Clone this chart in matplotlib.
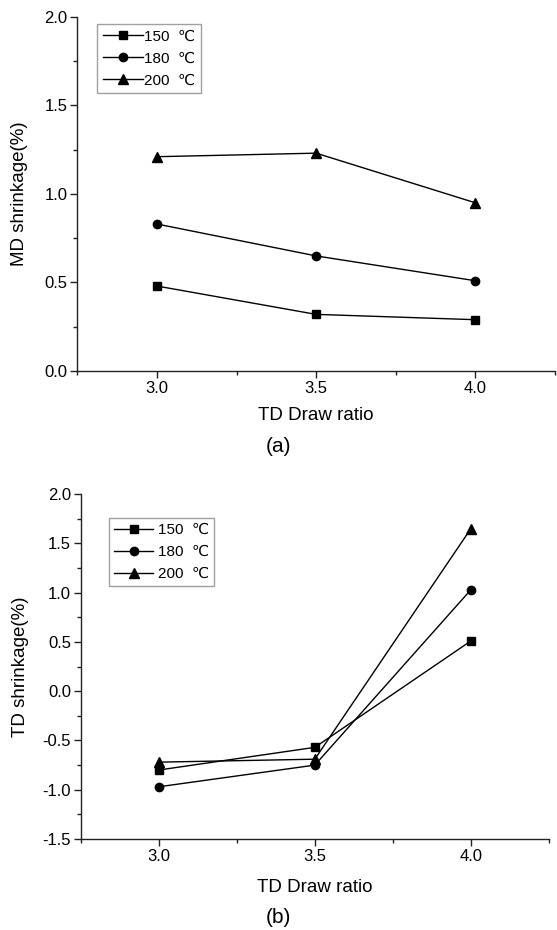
import matplotlib.pyplot as plt
from matplotlib.ticker import MultipleLocator

plt.rcParams['font.family'] = ['Liberation Sans', 'DejaVu Sans']

# draw ratios and shrinkage values per heat-set temperature
draw_ratio = [3.0, 3.5, 4.0]
temps = ['150', '180', '200']
md_shrink = {
    '150': [0.48, 0.32, 0.29],
    '180': [0.83, 0.65, 0.51],
    '200': [1.21, 1.23, 0.95],
}
td_shrink = {
    '150': [-0.80, -0.57, 0.51],
    '180': [-0.97, -0.75, 1.03],
    '200': [-0.72, -0.69, 1.65],
}
markers = {'150': 's', '180': 'o', '200': '^'}
msizes = {'150': 5.5, '180': 6, '200': 6.5}

W, H = 557, 930
fig = plt.figure(figsize=(W / 100, H / 100), dpi=100)
ax_a = fig.add_axes([0.139, 0.601, 0.857, 0.381])
ax_b = fig.add_axes([0.1447, 0.0978, 0.841, 0.371])


def style_axes(ax, ylim, ylabel, ylab_x, xlab_y):
    ax.set_xlim(2.75, 4.25)
    ax.set_ylim(*ylim)
    ax.xaxis.set_major_locator(MultipleLocator(0.5))
    ax.xaxis.set_minor_locator(MultipleLocator(0.25))
    ax.yaxis.set_major_locator(MultipleLocator(0.5))
    ax.yaxis.set_minor_locator(MultipleLocator(0.25))
    ax.xaxis.set_major_formatter(lambda v, p: f'{v:.1f}')
    ax.yaxis.set_major_formatter(lambda v, p: f'{v:.1f}')
    for s in ['top', 'right']:
        ax.spines[s].set_visible(False)
    for s in ['left', 'bottom']:
        ax.spines[s].set_linewidth(1.0)
        ax.spines[s].set_color('#222222')
    ax.tick_params(which='major', direction='out', length=5, width=1.0,
                   labelsize=12, pad=2, colors='#222222', labelcolor='black')
    ax.tick_params(which='minor', direction='out', length=3, width=1.0,
                   colors='#222222')
    ax.set_xlabel('TD Draw ratio', fontsize=13.5, va='center')
    ax.set_ylabel(ylabel, fontsize=13.5, va='center')
    ax.xaxis.set_label_coords(0.5, xlab_y)
    ax.yaxis.set_label_coords(ylab_x, 0.5)


for ax, data in [(ax_a, md_shrink), (ax_b, td_shrink)]:
    for t in temps:
        ax.plot(draw_ratio, data[t], color='black', lw=1.0,
                marker=markers[t], markersize=msizes[t],
                label=f'{t}  \u2103', clip_on=False)

style_axes(ax_a, (0.0, 2.0), 'MD shrinkage(%)', -0.121, -0.124)
style_axes(ax_b, (-1.5, 2.0), 'TD shrinkage(%)', -0.129, -0.139)

leg_a = ax_a.legend(loc='upper left', bbox_to_anchor=(97 / W, 1 - 24 / H),
                    bbox_transform=fig.transFigure,
                    fontsize=11, handlelength=2.6, handletextpad=0.08,
                    borderpad=0.38, labelspacing=0.52, fancybox=False,
                    edgecolor='#888888', borderaxespad=0)
leg_b = ax_b.legend(loc='upper left', bbox_to_anchor=(109 / W, 1 - 518 / H),
                    bbox_transform=fig.transFigure,
                    fontsize=11, handlelength=2.55, handletextpad=0.33,
                    borderpad=0.33, labelspacing=0.52, fancybox=False,
                    edgecolor='#888888', borderaxespad=0)
for leg in (leg_a, leg_b):
    leg.get_frame().set_linewidth(1.0)

fig.text(0.5, 1 - 446 / H, '(a)', ha='center', va='center', fontsize=15)
fig.text(0.5, 1 - 917 / H, '(b)', ha='center', va='center', fontsize=15)

fig.savefig('out.png', dpi=100)
